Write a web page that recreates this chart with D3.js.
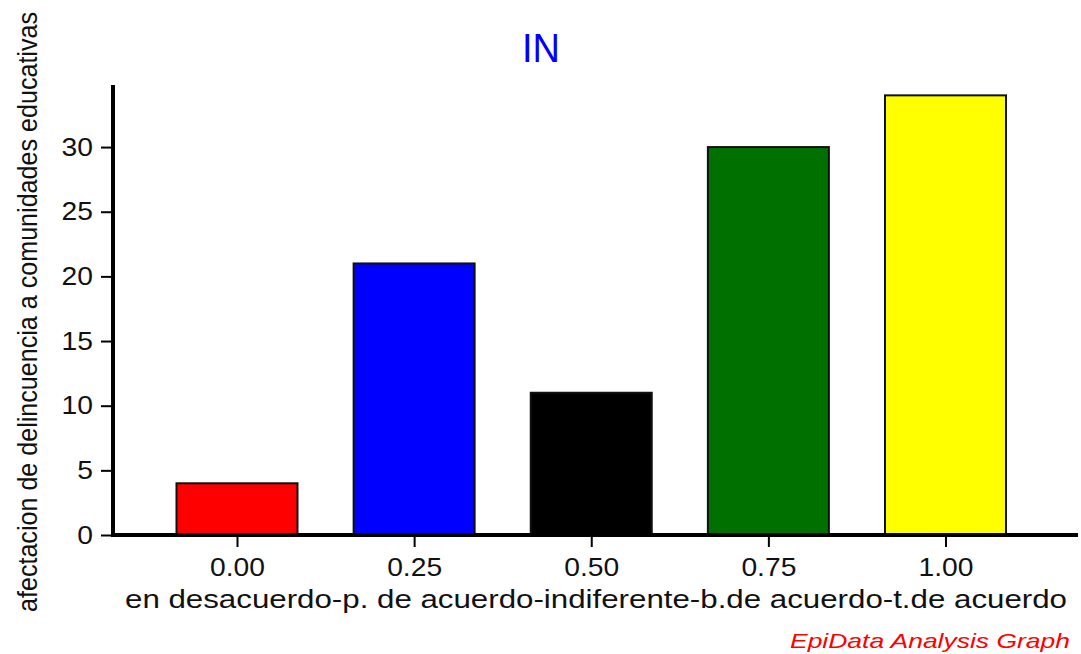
<!DOCTYPE html>
<html>
<head>
<meta charset="utf-8">
<script src="https://cdn.jsdelivr.net/npm/d3@7"></script>
<style>
  body { margin: 0; background: #fff; }
  svg { display: block; font-family: "Liberation Sans", Arial, sans-serif; }
</style>
</head>
<body>
<svg width="1081" height="654"></svg>
<script>
// data
const categories = [0, 0.25, 0.5, 0.75, 1];
const counts = [4, 21, 11, 30, 34];
const barColors = ['#ff0000', '#0000ff', '#000000', '#007000', '#ffff00'];
const yTicks = [0, 5, 10, 15, 20, 25, 30];

const svg = d3.select('svg');
const stretch = 1.13; // the picture is a bit wider than tall

// scales
const x = d3.scaleLinear().domain([0, 1]).range([237, 945.5]);
const y = d3.scaleLinear().domain([0, 34.8]).range([535, 85]);
const barW = 121;
const axisLeftX = 113, axisRightX = 1078;

// bars
svg.selectAll('rect.bar')
  .data(categories).enter()
  .append('rect')
  .attr('class', 'bar')
  .attr('x', d => x(d) - barW / 2)
  .attr('y', (d, i) => y(counts[i]))
  .attr('width', barW)
  .attr('height', (d, i) => y(0) - y(counts[i]))
  .attr('fill', (d, i) => barColors[i])
  .attr('stroke', '#111')
  .attr('stroke-width', 2);

function styleTicks(g) {
  g.select('.domain').remove();
  g.selectAll('.tick line').attr('stroke', '#000').attr('stroke-width', 2);
  g.selectAll('.tick text')
    .attr('font-size', 25)
    .attr('fill', '#111')
    .attr('font-family', '"Liberation Sans", Arial, sans-serif')
    .each(function() {
      const w = this.getComputedTextLength();
      d3.select(this).attr('textLength', w * stretch).attr('lengthAdjust', 'spacingAndGlyphs');
    });
}

// y axis
const yAxis = d3.axisLeft(y).tickValues(yTicks).tickSize(12).tickPadding(8);
svg.append('g').attr('transform', 'translate(' + axisLeftX + ',0)').call(yAxis).call(styleTicks);
svg.append('line')
  .attr('x1', axisLeftX).attr('x2', axisLeftX)
  .attr('y1', y.range()[1]).attr('y2', y(0) + 2)
  .attr('stroke', '#000').attr('stroke-width', 4);

// x axis
const xAxis = d3.axisBottom(x).tickValues(categories).tickFormat(d3.format('.2f'))
  .tickSize(12).tickPadding(11);
svg.append('g').attr('transform', 'translate(0,' + y(0) + ')').call(xAxis).call(styleTicks);
svg.append('line')
  .attr('x1', axisLeftX - 1).attr('x2', axisRightX)
  .attr('y1', y(0)).attr('y2', y(0))
  .attr('stroke', '#000').attr('stroke-width', 4);

// title
svg.append('text').text('IN')
  .attr('x', 541).attr('y', 62)
  .attr('text-anchor', 'middle')
  .attr('font-size', 40)
  .attr('textLength', 38).attr('lengthAdjust', 'spacingAndGlyphs')
  .attr('fill', '#0000ff');

// axis titles
svg.append('text').text('afectacion de delincuencia a comunidades educativas')
  .attr('transform', 'translate(37,312) rotate(-90) scale(1,' + stretch + ')')
  .attr('text-anchor', 'middle')
  .attr('font-size', 25)
  .attr('textLength', 600).attr('lengthAdjust', 'spacingAndGlyphs')
  .attr('fill', '#111');

svg.append('text').text('en desacuerdo-p. de acuerdo-indiferente-b.de acuerdo-t.de acuerdo')
  .attr('x', 125).attr('y', 608)
  .attr('font-size', 25)
  .attr('textLength', 942).attr('lengthAdjust', 'spacingAndGlyphs')
  .attr('fill', '#111');

svg.append('text').text('EpiData Analysis Graph')
  .attr('x', 790).attr('y', 648)
  .attr('font-size', 21)
  .attr('font-style', 'italic')
  .attr('textLength', 280).attr('lengthAdjust', 'spacingAndGlyphs')
  .attr('fill', '#ff0000');
</script>
</body>
</html>
